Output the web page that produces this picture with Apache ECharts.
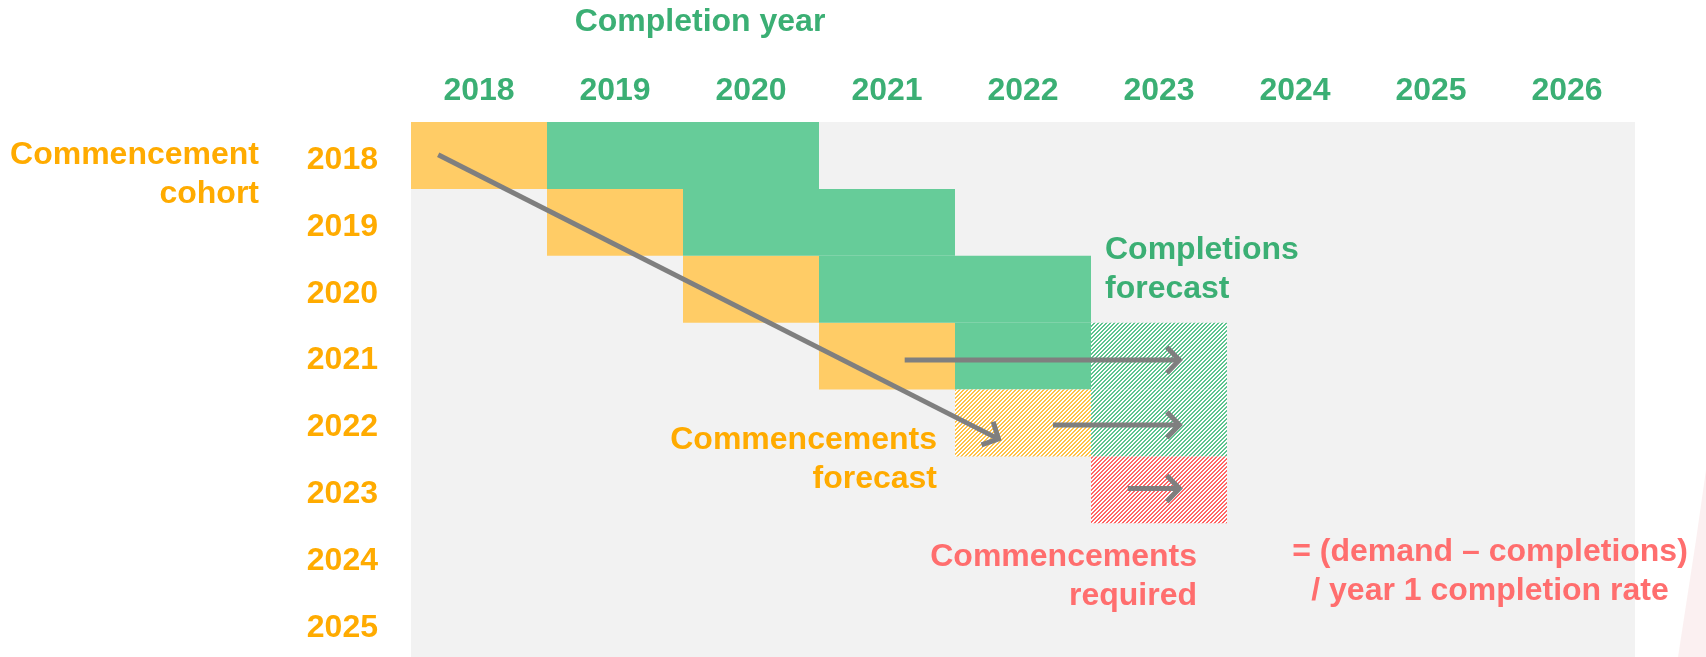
<!DOCTYPE html>
<html>
  <head>
    <meta charset="utf-8" />
    <script src="https://cdn.jsdelivr.net/npm/echarts@6/dist/echarts.min.js"></script>
    <title>Completion year</title>
    <style>
      html, body { margin: 0; padding: 0; background: #ffffff; }
      #chart { width: 1706px; height: 657px; }
    </style>
  </head>
  <body>
    <div id="chart"></div>
    <script>
      // axes
      const completionYears = ['2018', '2019', '2020', '2021', '2022', '2023', '2024', '2025', '2026']
      const cohortYears = ['2018', '2019', '2020', '2021', '2022', '2023', '2024', '2025']

      // cells: [completion year, commencement cohort]
      const commencementsActual = [['2018', '2018'], ['2019', '2019'], ['2020', '2020'], ['2021', '2021']]
      const completionsActual = [
        ['2019', '2018'], ['2020', '2018'],
        ['2020', '2019'], ['2021', '2019'],
        ['2021', '2020'], ['2022', '2020'],
        ['2022', '2021']
      ]
      const commencementsForecast = [['2022', '2022']]
      const completionsForecast = [['2023', '2021'], ['2023', '2022']]
      const commencementsRequired = [['2023', '2023']]

      // arrows in cell units (0 = centre of first cell): [x1, y1, x2, y2]
      const arrows = [
        [-0.30, -0.01, 3.82, 4.24],
        [3.13, 3.06, 5.15, 3.06],
        [4.22, 4.03, 5.15, 4.03],
        [4.77, 4.98, 5.15, 4.98]
      ]

      const GREEN_TXT = '#3baf74'
      const ORANGE_TXT = '#ffab00'
      const RED_TXT = '#ff6e6e'
      const FONT = '"Liberation Sans", Arial, sans-serif'

      // diagonal hatch tile
      function hatch(color) {
        var c = document.createElement('canvas')
        c.width = 4
        c.height = 4
        var ctx = c.getContext('2d')
        ctx.fillStyle = '#ffffff'
        ctx.fillRect(0, 0, 4, 4)
        ctx.fillStyle = color
        for (var i = 0; i < 4; i++) {
          for (var j = 0; j < 4; j++) {
            if ((i + j) % 4 < 2) ctx.fillRect(i, j, 1, 1)
          }
        }
        return { image: c, repeat: 'repeat' }
      }

      function cellItem(fill) {
        return function (params, api) {
          var c = api.coord([api.value(0), api.value(1)])
          var s = api.size([1, 1])
          return {
            type: 'rect',
            shape: { x: c[0] - s[0] / 2, y: c[1] - s[1] / 2, width: s[0], height: s[1] },
            style: { fill: fill }
          }
        }
      }

      function cellSeries(data, fill) {
        return {
          type: 'custom',
          xAxisIndex: 0,
          yAxisIndex: 0,
          data: data,
          renderItem: cellItem(fill),
          silent: true
        }
      }

      function arrowItem(params, api) {
        var p1 = api.coord([api.value(0), api.value(1)])
        var p2 = api.coord([api.value(2), api.value(3)])
        var ang = Math.atan2(p2[1] - p1[1], p2[0] - p1[0])
        var len = 18
        var spread = 0.8
        var a = [p2[0] - len * Math.cos(ang - spread), p2[1] - len * Math.sin(ang - spread)]
        var b = [p2[0] - len * Math.cos(ang + spread), p2[1] - len * Math.sin(ang + spread)]
        var end = [p2[0] - 3 * Math.cos(ang), p2[1] - 3 * Math.sin(ang)]
        var st = { stroke: '#7f7f7f', lineWidth: 5, fill: null }
        return {
          type: 'group',
          children: [
            { type: 'line', shape: { x1: p1[0], y1: p1[1], x2: end[0], y2: end[1] }, style: st },
            { type: 'polyline', shape: { points: [a, p2, b] }, style: { stroke: '#7f7f7f', lineWidth: 5, fill: null, lineJoin: 'miter' } }
          ]
        }
      }

      function label(text, x, y, color, align) {
        return {
          type: 'text',
          x: x,
          y: y,
          silent: true,
          style: {
            text: text,
            fill: color,
            fontSize: 32,
            fontWeight: 'bold',
            fontFamily: FONT,
            lineHeight: 39,
            align: align,
            verticalAlign: 'middle'
          }
        }
      }

      var chart = echarts.init(document.getElementById('chart'))
      var option = {
        animation: false,
        backgroundColor: '#ffffff',
        grid: {
          left: 411,
          top: 122,
          width: 1224,
          height: 540,
          show: true,
          backgroundColor: '#f2f2f2',
          borderWidth: 0
        },
        xAxis: [
          {
            type: 'category',
            position: 'top',
            data: completionYears,
            axisLine: { show: false },
            axisTick: { show: false },
            splitLine: { show: false },
            axisLabel: {
              color: GREEN_TXT,
              fontSize: 32,
              fontWeight: 'bold',
              fontFamily: FONT,
              margin: 15
            }
          },
          { type: 'value', min: -0.5, max: 8.5, show: false }
        ],
        yAxis: [
          {
            type: 'category',
            inverse: true,
            data: cohortYears,
            axisLine: { show: false },
            axisTick: { show: false },
            splitLine: { show: false },
            axisLabel: {
              margin: 33,
              formatter: '{v|{value}}',
              rich: {
                v: {
                  color: ORANGE_TXT,
                  fontSize: 32,
                  fontWeight: 'bold',
                  fontFamily: FONT,
                  padding: [9, 0, 0, 0]
                }
              }
            }
          },
          { type: 'value', min: -0.5, max: 7.5, inverse: true, show: false }
        ],
        graphic: [
          label('Completion year', 700, 22, GREEN_TXT, 'center'),
          label('Commencement\ncohort', 259, 175, ORANGE_TXT, 'right'),
          label('Completions\nforecast', 1105, 270, GREEN_TXT, 'left'),
          label('Commencements\nforecast', 937, 460, ORANGE_TXT, 'right'),
          label('Commencements\nrequired', 1197, 577, RED_TXT, 'right'),
          label('= (demand \u2013 completions)\n/ year 1 completion rate', 1490, 572, RED_TXT, 'center'),
          {
            type: 'polygon',
            silent: true,
            z: -1,
            shape: { points: [[1706, 470], [1696, 540], [1678, 657], [1706, 657]] },
            style: { fill: 'rgba(230, 160, 170, 0.16)' }
          }
        ],
        series: [
          cellSeries(commencementsActual, '#ffcc66'),
          cellSeries(completionsActual, '#66cc99'),
          cellSeries(commencementsForecast, hatch('#ffc247')),
          cellSeries(completionsForecast, hatch('#5cc48f')),
          cellSeries(commencementsRequired, hatch('#ff6666')),
          {
            type: 'custom',
            xAxisIndex: 1,
            yAxisIndex: 1,
            z: 5,
            silent: true,
            data: arrows,
            encode: { x: [0, 2], y: [1, 3] },
            renderItem: arrowItem
          }
        ]
      }
      chart.setOption(option)
    </script>
  </body>
</html>
